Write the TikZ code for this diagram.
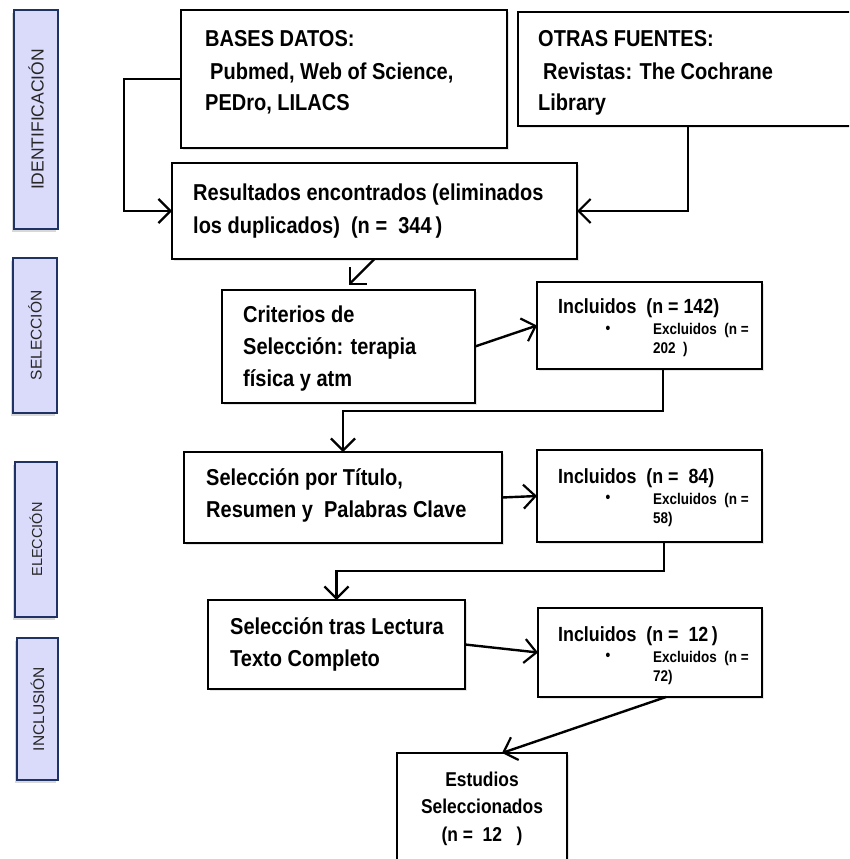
\documentclass[tikz,border=0pt]{standalone}
\usepackage{fontspec}
\setmainfont{Liberation Sans}
\newfontfamily\narrowfont{Liberation Sans}[FakeStretch=0.87]
\usetikzlibrary{arrows.meta,shadows}
\definecolor{sidefill}{RGB}{218,218,250}
\definecolor{sideline}{RGB}{31,50,100}
\tikzset{
 box/.style={draw=black, line width=2.4pt, fill=white, inner sep=0pt, outer sep=0pt, anchor=north west,
   drop shadow={opacity=0.2, shadow xshift=2pt, shadow yshift=-2pt}},
 thinbox/.style={box, line width=1.4pt},
 sidebox/.style={draw=sideline, line width=1.6pt, fill=sidefill, inner sep=0pt, outer sep=0pt, anchor=north west,
   drop shadow={opacity=0.3, shadow xshift=-2pt, shadow yshift=-3pt}},
 sidetxt/.style={rotate=90, inner sep=0pt, text=black!85},
 txt/.style={anchor=base west, inner sep=0pt, font=\narrowfont\fontsize{23}{32}\selectfont\bfseries},
 inctxt/.style={anchor=base west, inner sep=0pt, font=\narrowfont\fontsize{20.5}{28}\selectfont\bfseries},
 smalltxt/.style={anchor=base west, inner sep=0pt, font=\narrowfont\fontsize{15.5}{18}\selectfont\bfseries},
 esttxt/.style={anchor=base, inner sep=0pt, font=\narrowfont\fontsize{20}{27}\selectfont\bfseries},
 arr/.style={line width=2.4pt, -{Straight Barb[length=12pt,width=24pt,line width=2.2pt]}},
}
\begin{document}
\begin{tikzpicture}[x=1pt,y=-1pt]
\clip (0,0) rectangle (849,859);
\fill[white] (0,0) rectangle (849,859);

% side labels
\node[sidebox, minimum width=44pt, minimum height=219pt] (sid) at (14,10) {};
\node[sidetxt, font=\fontsize{17.5}{20}\selectfont] (sidt) at (sid.center) {IDENTIFICACIÓN};
\node[sidebox, minimum width=44pt, minimum height=155pt] (sse) at (13,258) {};
\node[sidetxt, font=\fontsize{15.5}{18}\selectfont] (sset) at (sse.center) {SELECCIÓN};
\node[sidebox, minimum width=42pt, minimum height=155pt] (sel) at (15,462) {};
\node[sidetxt, font=\fontsize{14.5}{18}\selectfont] (selt) at (sel.center) {ELECCIÓN};
\node[sidebox, minimum width=41pt, minimum height=142pt] (sin) at (17,638) {};
\node[sidetxt, font=\fontsize{15.5}{18}\selectfont] (sint) at (sin.center) {INCLUSIÓN};

% boxes
\node[box, minimum width=326pt, minimum height=138pt] (bases) at (181,10) {};
\node[box, minimum width=340pt, minimum height=114pt] (otras) at (518,12) {};
\node[box, minimum width=405pt, minimum height=96pt] (res) at (172,163) {};
\node[box, minimum width=253pt, minimum height=113pt] (crit) at (222,290) {};
\node[thinbox, minimum width=225pt, minimum height=87pt] (inc1) at (537,282) {};
\node[box, minimum width=318pt, minimum height=91pt] (tit) at (184,452) {};
\node[thinbox, minimum width=225pt, minimum height=92pt] (inc2) at (537,450) {};
\node[box, minimum width=257pt, minimum height=89pt] (lect) at (208,600) {};
\node[thinbox, minimum width=224pt, minimum height=89pt] (inc3) at (538,608) {};
\node[thinbox, minimum width=170pt, minimum height=140pt] (est) at (397,753) {};

% texts
\node[txt] (b1) at (205,47) {BASES DATOS:};
\node[txt] (b2) at (210,79) {Pubmed, Web of Science,};
\node[txt] (b3) at (205,110) {PEDro, LILACS};
\node[txt] (o1) at (538,47) {OTRAS FUENTES:};
\node[txt] (o2) at (543,79) {Revistas: The Cochrane};
\node[txt] (o3) at (538,110) {Library};
\node[txt] (r1) at (193,200) {Resultados encontrados (eliminados};
\node[txt] (r2) at (193,233) {los duplicados)\ \ (n =\ \ 344\,)};
\node[txt] (c1) at (243,322) {Criterios de};
\node[txt] (c2) at (243,354) {Selección: terapia};
\node[txt] (c3) at (243,386) {física y atm};
\node[inctxt] (i1a) at (558,313) {Incluidos\ \ (n = 142)};
\node[smalltxt, anchor=base] (i1b) at (608,333) {•};
\node[smalltxt] (i1c) at (653,334) {Excluidos\ \ (n =};
\node[smalltxt] (i1d) at (653,353) {202\ \ )};
\node[txt] (t1) at (206,485) {Selección por Título,};
\node[txt] (t2) at (206,517) {Resumen y\ \ Palabras Clave};
\node[inctxt] (i2a) at (558,483) {Incluidos\ \ (n =\ \ 84)};
\node[smalltxt, anchor=base] (i2b) at (608,502) {•};
\node[smalltxt] (i2c) at (653,504) {Excluidos\ \ (n =};
\node[smalltxt] (i2d) at (653,523) {58)};
\node[txt] (l1) at (230,634) {Selección tras Lectura};
\node[txt] (l2) at (230,666) {Texto Completo};
\node[inctxt] (i3a) at (558,641) {Incluidos\ \ (n =\ \ 12\,)};
\node[smalltxt, anchor=base] (i3b) at (608,660) {•};
\node[smalltxt] (i3c) at (653,662) {Excluidos\ \ (n =};
\node[smalltxt] (i3d) at (653,681) {72)};
\node[esttxt] (e1) at (est.north |- 0,786) {Estudios};
\node[esttxt] (e2) at (est.north |- 0,813) {Seleccionados};
\node[esttxt] (e3) at (est.north |- 0,841) {(n =\ \ 12\ \ \ )};

% connectors
\draw[arr] (bases.west) -- ++(-57,0) |- (res.west);
\draw[arr] ([xshift=170pt]otras.south west) |- (res.east);
\draw[arr] (res.south) -- ([yshift=5pt]crit.north);
\draw[arr] (crit.east) -- (inc1.west);
\draw[arr] ([xshift=126pt]inc1.south west) -- ++(0,42) -| (tit.north);
\draw[arr] (tit.east) -- (inc2.west);
\draw[arr] ([xshift=127pt]inc2.south west) -- ++(0,29) -| (lect.north);
\draw[arr] (lect.east) -- (inc3.west);
\draw[arr] ([xshift=128pt]inc3.south west) -- ([xshift=20pt]est.north);
\end{tikzpicture}
\end{document}
